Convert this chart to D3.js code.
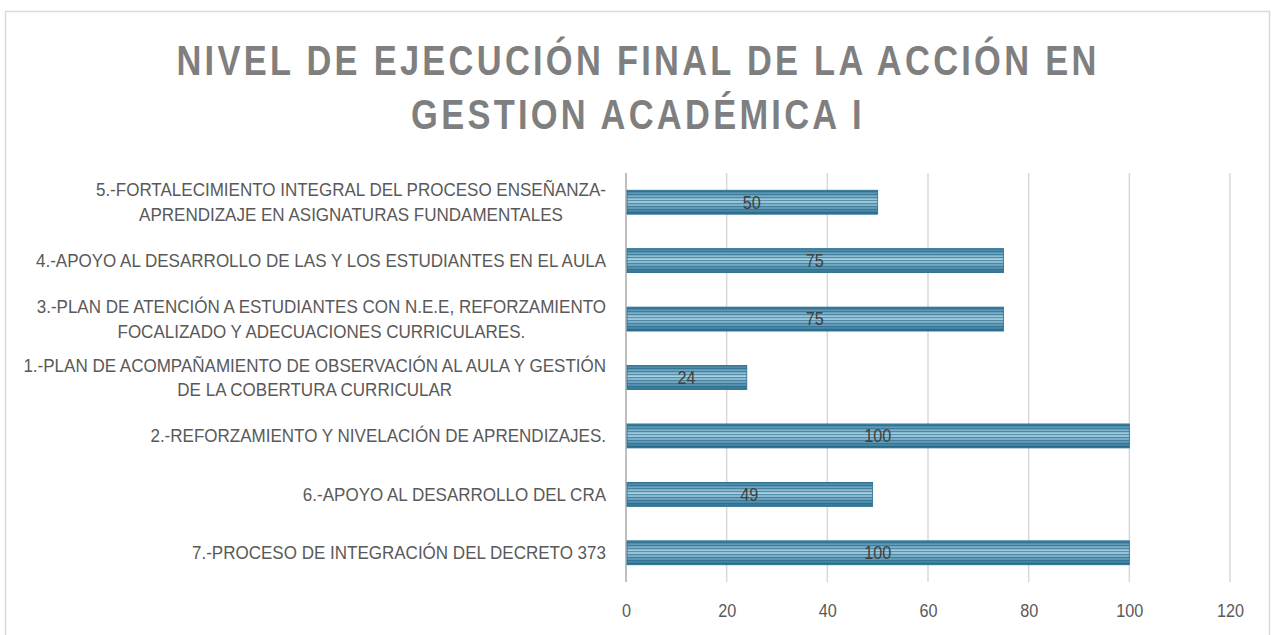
<!DOCTYPE html>
<html>
<head>
<meta charset="utf-8">
<script src="https://cdn.jsdelivr.net/npm/d3@7"></script>
<style>
  body { margin: 0; background: #fff; }
  text { font-family: "Liberation Sans", Arial, sans-serif; }
</style>
</head>
<body>
<div id="ChartContainer"></div>
<script>
// data, top to bottom as in the chart
var categories = [
  ["5.-FORTALECIMIENTO INTEGRAL DEL PROCESO ENSEÑANZA-", "APRENDIZAJE EN ASIGNATURAS FUNDAMENTALES"],
  ["4.-APOYO AL DESARROLLO DE LAS Y LOS ESTUDIANTES EN EL AULA"],
  ["3.-PLAN DE ATENCIÓN A ESTUDIANTES CON N.E.E, REFORZAMIENTO", "FOCALIZADO Y ADECUACIONES CURRICULARES."],
  ["1.-PLAN DE ACOMPAÑAMIENTO DE OBSERVACIÓN AL AULA Y GESTIÓN", "DE LA COBERTURA CURRICULAR"],
  ["2.-REFORZAMIENTO Y NIVELACIÓN DE APRENDIZAJES."],
  ["6.-APOYO AL DESARROLLO DEL CRA"],
  ["7.-PROCESO DE INTEGRACIÓN DEL DECRETO 373"]
]
var values = [50, 75, 75, 24, 100, 49, 100]
var xTicks = [0, 20, 40, 60, 80, 100, 120]
var titleLines = ["NIVEL DE EJECUCIÓN FINAL DE LA ACCIÓN EN", "GESTION ACADÉMICA I"]

var fullWidth = 1271
var fullHeight = 635
var margin = { top: 173, right: 41, bottom: 53, left: 626 }
var width = fullWidth - margin.left - margin.right
var height = fullHeight - margin.top - margin.bottom

// squeeze text horizontally to mimic the narrow font of the original
var narrow = (sel, k) => sel.each(function () {
  var w = this.getComputedTextLength()
  d3.select(this).attr("textLength", w * k).attr("lengthAdjust", "spacingAndGlyphs")
})

var svg = d3.select("#ChartContainer").append("svg")
  .attr("width", fullWidth)
  .attr("height", fullHeight)

// striped, shaded fill for the bars
var defs = svg.append("defs")
var grad = defs.append("linearGradient")
  .attr("id", "barShade")
  .attr("x1", 0).attr("y1", 0).attr("x2", 0).attr("y2", 1)
grad.append("stop").attr("offset", "0%").attr("stop-color", "#3a7fa0")
grad.append("stop").attr("offset", "45%").attr("stop-color", "#a9d3e6")
grad.append("stop").attr("offset", "100%").attr("stop-color", "#2a7094")
var pat = defs.append("pattern")
  .attr("id", "stripes")
  .attr("patternUnits", "userSpaceOnUse")
  .attr("width", 8)
  .attr("height", 3)
pat.append("rect").attr("y", 0).attr("width", 8).attr("height", 1.2).attr("fill", "#1d5f80").attr("fill-opacity", 0.55)

// chart border
svg.append("rect")
  .attr("x", 5.5)
  .attr("y", 11.5)
  .attr("width", fullWidth - 7)
  .attr("height", fullHeight + 20)
  .attr("fill", "none")
  .attr("stroke", "#d9d9d9")
  .attr("stroke-width", 1.5)

// title, condensed with a horizontal scale
svg.selectAll(".ChartTitle")
  .data(titleLines)
  .enter().append("text")
  .attr("class", "ChartTitle")
  .attr("transform", (d, i) => `translate(638,${75 + i * 54}) scale(0.82,1)`)
  .attr("text-anchor", "middle")
  .attr("font-size", "42px")
  .attr("font-weight", "bold")
  .attr("letter-spacing", "4px")
  .attr("fill", "#7f7f7f")
  .text(d => d)

var x = d3.scaleLinear()
  .domain([0, 120])
  .range([0, width])
var y = d3.scaleBand()
  .domain(d3.range(categories.length))
  .range([0, height])
  .paddingInner(0.59)
  .paddingOuter(0.295)

var g = svg.append("g")
  .attr("transform", `translate(${margin.left},${margin.top})`)

// gridlines
g.selectAll(".Grid")
  .data(xTicks.slice(1))
  .enter().append("line")
  .attr("class", "Grid")
  .attr("x1", d => x(d))
  .attr("x2", d => x(d))
  .attr("y1", 0)
  .attr("y2", height)
  .attr("stroke", "#d9d9d9")
  .attr("stroke-width", 1.5)

// x-axis
var xAxis = g.append("g")
  .attr("class", "axis axis-x")
  .attr("transform", "translate(0," + height + ")")
  .call(d3.axisBottom(x).tickValues(xTicks).tickSize(0).tickPadding(22))
xAxis.select(".domain").remove()
xAxis.selectAll("text")
  .attr("font-size", "18px")
  .attr("font-family", "Liberation Sans, sans-serif")
  .attr("fill", "#595959")
  .call(narrow, 0.9)

// vertical axis line
g.append("line")
  .attr("x1", 0).attr("x2", 0)
  .attr("y1", 0).attr("y2", height)
  .attr("stroke", "#bfbfbf")
  .attr("stroke-width", 2)

// bars: shaded base plus stripe overlay
var bars = g.selectAll(".Bar")
  .data(values)
  .enter().append("g")
  .attr("class", "Bar")
bars.append("rect")
  .attr("x", x(0) + 1)
  .attr("y", (d, i) => y(i))
  .attr("width", d => x(d) - x(0) - 1)
  .attr("height", y.bandwidth())
  .attr("fill", "url(#barShade)")
bars.append("rect")
  .attr("x", x(0) + 1)
  .attr("y", (d, i) => y(i))
  .attr("width", d => x(d) - x(0) - 1)
  .attr("height", y.bandwidth())
  .attr("fill", "url(#stripes)")
  .attr("stroke", "#2a6e90")
  .attr("stroke-width", 0.8)

// value labels
g.selectAll(".ValueLabel")
  .data(values)
  .enter().append("text")
  .attr("class", "ValueLabel")
  .attr("x", d => (x(0) + x(d)) / 2)
  .attr("y", (d, i) => y(i) + y.bandwidth() / 2)
  .attr("dy", "0.35em")
  .attr("text-anchor", "middle")
  .attr("font-size", "18px")
  .attr("fill", "#404040")
  .text(d => d)
  .call(narrow, 0.9)

// category labels, lines centred inside a right-aligned block
var labelRight = -20
var lineHeight = 24.5
categories.forEach((lines, i) => {
  var cy = y(i) + y.bandwidth() / 2
  var grp = g.append("g").attr("class", "CatLabel")
  var texts = lines.map((line, j) => grp.append("text")
    .attr("y", cy + (j - (lines.length - 1) / 2) * lineHeight)
    .attr("dy", "0.35em")
    .attr("text-anchor", "middle")
    .attr("font-size", "18px")
    .attr("fill", "#595959")
    .text(line)
    .call(narrow, 0.945))
  var maxW = d3.max(texts, t => +t.attr("textLength"))
  texts.forEach(t => t.attr("x", labelRight - maxW / 2))
})
</script>
</body>
</html>
